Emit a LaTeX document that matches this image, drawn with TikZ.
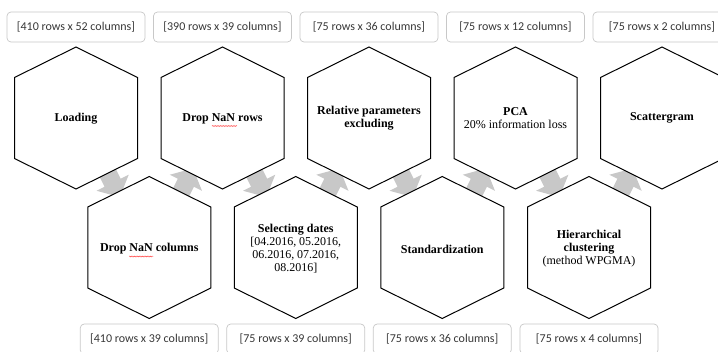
\documentclass[tikz,border=0pt]{standalone}
\usepackage{fontspec}
\setmainfont{Liberation Serif}
\newfontfamily\boxfont{Carlito}
\usetikzlibrary{calc,decorations.pathmorphing}
\definecolor{boxline}{HTML}{C8C8C8}
\definecolor{boxtext}{HTML}{383838}
\definecolor{arrowgray}{HTML}{C8C8C8}
\newcommand\hexat[1]{\path[hexline] (#1) ++(0,71) -- ++(61.5,-30.5) -- ++(0,-81) -- ++(-61.5,-30.5) -- ++(-61.5,30.5) -- ++(0,81) -- cycle;}
\newcommand\flowarrow[4]{\coordinate (#4) at ($(#1)!0.5!(#2)$);
  \path[blockarrow, shift={(#4)}, rotate=#3] (-18,-9) -- (0,-9) -- (0,-18) -- (16,0) -- (0,18) -- (0,9) -- (-18,9) -- cycle;}
\begin{document}
\begin{tikzpicture}[x=1pt,y=1pt,
 hexline/.style={draw=black, line width=1pt, fill=white, line join=miter},
 hextext/.style={align=center, font=\fontsize{12}{13}\selectfont, inner sep=0pt},
 sizebox/.style={draw=boxline, line width=0.7pt, rounded corners=4pt, minimum width=138pt, minimum height=30pt, font=\boxfont\fontsize{12}{14}\selectfont, text=boxtext, inner sep=0pt},
 blockarrow/.style={fill=arrowgray, draw=none},
 spell/.style={draw=red!75, line width=0.35pt, decorate, decoration={zigzag, amplitude=0.5pt, segment length=1.6pt}}]
\useasboundingbox (0,0) rectangle (718,-351);
\clip (0,0) rectangle (718,-351);
\fill[white] (0,0) rectangle (718,-351);
% hex centres
\coordinate (c1) at (76,-118);
\coordinate (c3) at (222.5,-118);
\coordinate (c5) at (369,-118);
\coordinate (c7) at (515.5,-118);
\coordinate (c9) at (662,-118);
\coordinate (c2) at (149.25,-247.5);
\coordinate (c4) at (295.75,-247.5);
\coordinate (c6) at (442.25,-247.5);
\coordinate (c8) at (589,-247.5);
% arrows
\flowarrow{c1}{c2}{-63.6}{a12}
\flowarrow{c2}{c3}{63.6}{a23}
\flowarrow{c3}{c4}{-63.6}{a34}
\flowarrow{c4}{c5}{63.6}{a45}
\flowarrow{c5}{c6}{-63.6}{a56}
\flowarrow{c6}{c7}{63.6}{a67}
\flowarrow{c7}{c8}{-63.6}{a78}
\flowarrow{c8}{c9}{63.6}{a89}
% hexagons
\hexat{c1}\hexat{c3}\hexat{c5}\hexat{c7}\hexat{c9}
\hexat{c2}\hexat{c4}\hexat{c6}\hexat{c8}
% texts
\node[hextext] (t1) at ($(c1)+(0,-1)$) {\textbf{Loading}};
\node[hextext] (t3) at ($(c3)+(0,-1)$) {\textbf{Drop NaN rows}};
\node[hextext] (t5) at ($(c5)+(0,0)$) {\textbf{Relative parameters}\\\textbf{excluding}};
\node[hextext] (t7) at ($(c7)+(0,0)$) {\textbf{PCA}\\20\% information loss};
\node[hextext] (t9) at ($(c9)+(0,0)$) {\textbf{Scattergram}};
\node[hextext] (t2) at ($(c2)+(0,-1.5)$) {\textbf{Drop NaN columns}};
\node[hextext] (t4) at ($(c4)+(0,-1.5)$) {\textbf{Selecting dates}\\{[}04.2016, 05.2016,\\06.2016, 07.2016,\\08.2016{]}};
\node[hextext] (t6) at ($(c6)+(0,-1.5)$) {\textbf{Standardization}};
\node[hextext] (t8) at ($(c8)+(0,-1.5)$) {\textbf{Hierarchical}\\\textbf{clustering}\\(method WPGMA)};
\draw[spell] ($(t3)+(-10.5,-7)$) -- ++(25,0);
\draw[spell] ($(t2)+(-20,-7.5)$) -- ++(24,0);
% size boxes
\node[sizebox] (b1) at ($(c1)+(0,91)$) {[410 rows x 52 columns]};
\node[sizebox] (b3) at ($(c3)+(0,91)$) {[390 rows x 39 columns]};
\node[sizebox] (b5) at ($(c5)+(0,91)$) {[75 rows x 36 columns]};
\node[sizebox] (b7) at ($(c7)+(0,91)$) {[75 rows x 12 columns]};
\node[sizebox] (b9) at ($(c9)+(0,91)$) {[75 rows x 2 columns]};
\node[sizebox] (b2) at ($(c2)+(0,-91.5)$) {[410 rows x 39 columns]};
\node[sizebox] (b4) at ($(c4)+(0,-91.5)$) {[75 rows x 39 columns]};
\node[sizebox] (b6) at ($(c6)+(0,-91.5)$) {[75 rows x 36 columns]};
\node[sizebox] (b8) at ($(c8)+(0,-91.5)$) {[75 rows x 4 columns]};
\end{tikzpicture}
\end{document}
